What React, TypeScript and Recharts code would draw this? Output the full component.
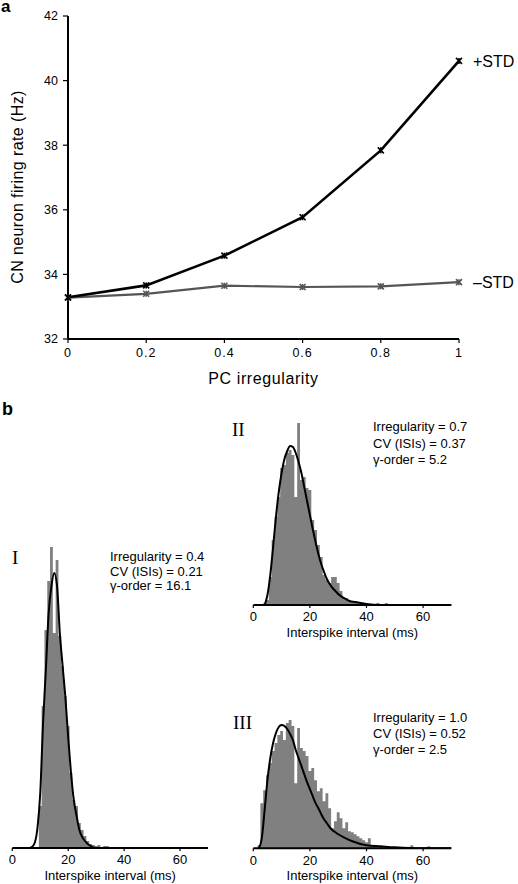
import { Area, ComposedChart, Line, LineChart, XAxis, YAxis } from "recharts";

// panel a: CN firing rate vs PC irregularity
const irregularity = [0, 0.2, 0.4, 0.6, 0.8, 1];
const rateWithStd = [33.29, 33.66, 34.58, 35.77, 37.84, 40.61];
const rateWithoutStd = [33.28, 33.4, 33.65, 33.61, 33.63, 33.76];
const rateTicks = [32, 34, 36, 38, 40, 42];

// panel b: ISI histograms (1 ms bins, keyed by bin centre) + gamma fits
const isiTicks = [0, 20, 40, 60];

const binsI = [10, 11, 12, 13, 14, 15, 16, 17, 18, 19, 20, 21, 22, 23, 24, 25, 26, 27, 28, 29, 30, 31, 32, 33, 34, 35];
const countsI = [42, 142, 218, 267, 301, 215, 288, 212, 182, 152, 122, 75, 48, 42, 25, 18, 12, 7, 4, 3, 2, 3, 1, 2, 2, 1];
const fitXI = [6, 7, 8, 9, 10, 11, 12, 13, 14, 15, 16, 17, 18, 19, 20, 21, 22, 23, 24, 25, 26, 27, 28, 30, 70];
const fitYI = [0, 1, 5, 20, 55, 125, 178, 235, 262, 275, 262, 215, 182, 150, 110, 75, 48, 32, 18, 11, 7, 4, 2, 0, 0];

const binsII = [4, 5, 6, 7, 8, 9, 10, 11, 12, 13, 14, 15, 16, 17, 18, 19, 20, 21, 22, 23, 24, 25, 26, 27, 28, 29, 30, 31, 32, 33, 34, 35, 36, 37, 38, 39, 41, 44, 47];
const countsII = [2, 5, 28, 65, 88, 108, 137, 140, 152, 155, 150, 108, 182, 125, 128, 117, 115, 85, 75, 60, 48, 30, 25, 22, 28, 28, 22, 14, 8, 7, 5, 3, 2, 2, 1, 1, 1, 2, 2];
const fitXII = [4, 5, 6, 7, 8, 9, 10, 11, 12, 13, 14, 15, 16, 17, 18, 19, 20, 21, 22, 23, 24, 25, 26, 27, 28, 29, 30, 32, 34, 36, 38, 40, 45, 70];
const fitYII = [0, 10, 30, 58, 88, 113, 132, 146, 154, 159, 158, 152, 143, 132, 118, 104, 90, 76, 63, 51, 41, 33, 26, 21, 17, 14, 11, 7, 4, 3, 2, 1, 0, 0];

const binsIII = [2, 3, 4, 5, 6, 7, 8, 9, 10, 11, 12, 13, 14, 15, 16, 17, 18, 19, 20, 21, 22, 23, 24, 25, 26, 27, 28, 29, 30, 31, 32, 33, 34, 35, 36, 37, 38, 39, 40, 41, 42, 43, 44, 45, 46, 47, 48, 50, 52, 56, 62];
const countsIII = [3, 45, 58, 73, 85, 97, 105, 113, 117, 108, 125, 128, 122, 65, 120, 100, 97, 92, 77, 80, 68, 57, 60, 47, 55, 40, 20, 27, 36, 30, 20, 26, 17, 16, 14, 12, 10, 8, 6, 10, 3, 2, 1, 2, 1, 1, 1, 1, 1, 3, 2];
const fitXIII = [2, 3, 4, 5, 6, 7, 8, 9, 10, 11, 12, 13, 14, 15, 16, 17, 18, 19, 20, 21, 22, 23, 24, 25, 26, 27, 28, 29, 30, 32, 35, 40, 45, 50, 60, 70];
const fitYIII = [0, 10, 38, 68, 90, 105, 115, 121, 123, 122, 119, 114, 108, 98, 90, 82, 74, 66, 59, 52, 45, 40, 34, 29, 25, 21, 18, 16, 14, 11, 7, 3, 2, 1, 0, 0];

const font = "'Liberation Sans', Arial, Helvetica, sans-serif";

const rateTable = irregularity.map((x, i) => ({
  x,
  withStd: rateWithStd[i],
  withoutStd: rateWithoutStd[i],
}));

type HistRow = { x: number; count?: number; fit?: number };

function buildTable(bins: number[], counts: number[], fitX: number[], fitY: number[]) {
  const rows = new Map<number, HistRow>();
  for (let ms = 0; ms <= 70; ms++) rows.set(ms, { x: ms, count: 0 });
  bins.forEach((b, i) => {
    rows.set(b, { ...(rows.get(b) ?? { x: b }), count: counts[i] });
  });
  fitX.forEach((f, i) => {
    rows.set(f, { ...(rows.get(f) ?? { x: f }), fit: fitY[i] });
  });
  return [...rows.values()].sort((a, b) => a.x - b.x);
}

function StarDot(props: any) {
  const { cx, cy, stroke } = props;
  if (cx == null || cy == null) return <g />;
  const r = 3;
  return (
    <g stroke={stroke} strokeWidth={1.6}>
      <line x1={cx - r} y1={cy - r} x2={cx + r} y2={cy + r} />
      <line x1={cx - r} y1={cy + r} x2={cx + r} y2={cy - r} />
      <line x1={cx} y1={cy - r} x2={cx} y2={cy + r} />
    </g>
  );
}

function endLabel(text: string) {
  return (p: any) =>
    p.index === irregularity.length - 1 ? (
      <text key={text} x={p.x + 14} y={p.y} dy="0.36em" fontSize={16} fill="#000">
        {text}
      </text>
    ) : (
      <g key={`${text}-${p.index}`} />
    );
}

type HistProps = {
  left: number;
  top: number;
  width: number;
  height: number;
  margin: { top: number; right: number; bottom: number; left: number };
  peak: number;
  data: HistRow[];
};

// histogram drawn as a centred step area (1 ms bins), fit as a smooth line
function IsiHistogram({ left, top, width, height, margin, peak, data }: HistProps) {
  return (
    <div style={{ position: "absolute", left, top }}>
      <ComposedChart width={width} height={height} data={data} margin={margin}>
        <XAxis
          dataKey="x"
          type="number"
          domain={[0, 70]}
          ticks={isiTicks}
          allowDataOverflow
          height={34}
          axisLine={{ stroke: "#000", strokeWidth: 2 }}
          tickLine={{ stroke: "#000", strokeWidth: 1.2 }}
          tickSize={3}
          tickMargin={4}
          tick={{ fill: "#000", fontSize: 13 }}
          label={{ value: "Interspike interval (ms)", position: "insideBottom", offset: 2.5, fill: "#000", fontSize: 13 }}
        />
        <YAxis hide domain={[0, peak]} allowDataOverflow />
        <Area
          dataKey="count"
          type="step"
          fill="#808080"
          fillOpacity={1}
          stroke="none"
          baseValue={0}
          isAnimationActive={false}
        />
        <Line
          dataKey="fit"
          type="monotone"
          stroke="#000"
          strokeWidth={2}
          dot={false}
          connectNulls
          isAnimationActive={false}
        />
      </ComposedChart>
    </div>
  );
}

function Note({ x, y, size, children, serif, bold, lh }: any) {
  return (
    <div
      style={{
        position: "absolute",
        left: x,
        top: y,
        fontSize: size,
        lineHeight: `${lh ?? size * 1.2}px`,
        fontFamily: serif ? "'Liberation Serif', 'Times New Roman', serif" : font,
        fontWeight: bold ? 700 : 400,
        whiteSpace: "pre",
        color: "#000",
      }}
    >
      {children}
    </div>
  );
}

export default function App() {
  return (
    <div style={{ position: "absolute", left: 0, top: 0, width: 518, height: 884, background: "#fff", fontFamily: font, overflow: "hidden" }}>
      <div style={{ position: "absolute", left: 0, top: 0 }}>
        <LineChart width={518} height={400} data={rateTable} margin={{ top: 16, right: 59, bottom: 16, left: 28 }}>
          <XAxis
            dataKey="x"
            type="number"
            domain={[0, 1]}
            ticks={irregularity}
            height={45}
            axisLine={{ stroke: "#000", strokeWidth: 2 }}
            tickLine={{ stroke: "#000", strokeWidth: 1.2 }}
            tickSize={4}
            tickMargin={5}
            tick={{ fill: "#000", fontSize: 12.5, letterSpacing: 1 }}
            label={{ value: "PC irregularity", position: "insideBottom", offset: 0, fill: "#000", fontSize: 16, letterSpacing: 0.6 }}
          />
          <YAxis
            type="number"
            domain={[32, 42]}
            ticks={rateTicks}
            width={40}
            axisLine={{ stroke: "#000", strokeWidth: 2 }}
            tickLine={{ stroke: "#000", strokeWidth: 1.2 }}
            tickSize={5}
            tickMargin={5}
            tick={{ fill: "#000", fontSize: 12.5 }}
            label={{
              content: () => (
                <text
                  x={17}
                  y={187}
                  transform="rotate(-90 17 187)"
                  textAnchor="middle"
                  dominantBaseline="central"
                  fontSize={16}
                  letterSpacing={0.4}
                  fill="#000"
                >
                  CN neuron firing rate (Hz)
                </text>
              ),
            }}
          />
          <Line
            dataKey="withoutStd"
            type="linear"
            stroke="#555"
            strokeWidth={2.2}
            dot={(p: any) => <StarDot key={`m${p.index}`} {...p} stroke="#555" />}
            label={endLabel("–STD")}
            isAnimationActive={false}
          />
          <Line
            dataKey="withStd"
            type="linear"
            stroke="#000"
            strokeWidth={2.6}
            dot={(p: any) => <StarDot key={`p${p.index}`} {...p} stroke="#000" />}
            label={endLabel("+STD")}
            isAnimationActive={false}
          />
        </LineChart>
      </div>

      <IsiHistogram
        left={0}
        top={530}
        width={225}
        height={354}
        margin={{ top: 17, right: 17, bottom: 2, left: 12.3 }}
        peak={301}
        data={buildTable(binsI, countsI, fitXI, fitYI)}
      />
      <IsiHistogram
        left={240}
        top={410}
        width={230}
        height={230}
        margin={{ top: 13, right: 18.6, bottom: 1, left: 13.3 }}
        peak={182}
        data={buildTable(binsII, countsII, fitXII, fitYII)}
      />
      <IsiHistogram
        left={240}
        top={700}
        width={230}
        height={184}
        margin={{ top: 20, right: 18.6, bottom: 1.7, left: 13.3 }}
        peak={128}
        data={buildTable(binsIII, countsIII, fitXIII, fitYIII)}
      />

      <Note x={1} y={0} size={17} bold lh={13}>a</Note>
      <Note x={2} y={399} size={18} bold>b</Note>
      <Note x={12} y={547} size={19} serif>I</Note>
      <Note x={232} y={419} size={19} serif>II</Note>
      <Note x={233} y={712} size={19} serif>III</Note>
      <Note x={110} y={550} size={13} lh={14.5}>{"Irregularity = 0.4\nCV (ISIs) = 0.21\nγ-order = 16.1"}</Note>
      <Note x={373} y={419} size={13} lh={16.5}>{"Irregularity = 0.7\nCV (ISIs) = 0.37\nγ-order = 5.2"}</Note>
      <Note x={373} y={710} size={13} lh={16}>{"Irregularity = 1.0\nCV (ISIs) = 0.52\nγ-order = 2.5"}</Note>
    </div>
  );
}
